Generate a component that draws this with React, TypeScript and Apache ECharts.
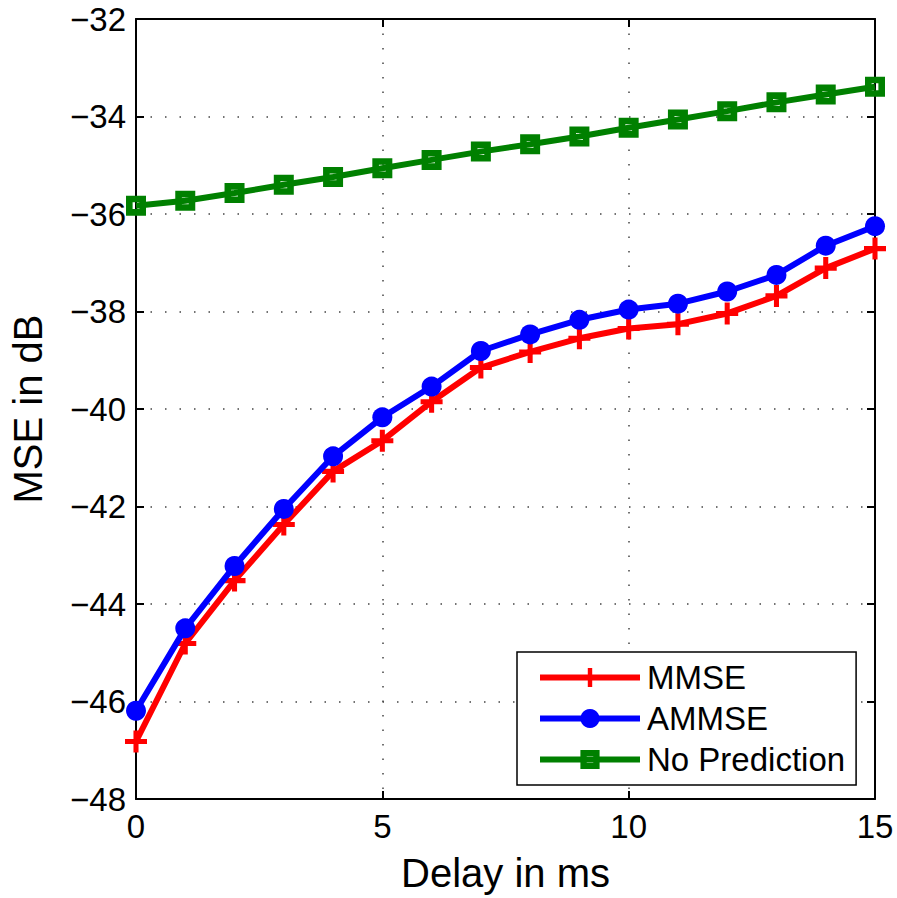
import React, { useEffect, useRef } from "react";
import * as echarts from "echarts";

const delays = [0, 1, 2, 3, 4, 5, 6, 7, 8, 9, 10, 11, 12, 13, 14, 15];
const mmse = [-46.82, -44.81, -43.52, -42.37, -41.28, -40.65, -39.85, -39.15, -38.83, -38.55, -38.35, -38.26, -38.04, -37.68, -37.11, -36.71];
const ammse = [-46.19, -44.5, -43.22, -42.05, -40.97, -40.17, -39.54, -38.81, -38.47, -38.17, -37.96, -37.84, -37.59, -37.25, -36.65, -36.25];
const noPrediction = [-35.83, -35.73, -35.57, -35.4, -35.24, -35.06, -34.89, -34.72, -34.57, -34.41, -34.23, -34.06, -33.89, -33.71, -33.55, -33.39];
const seriesNames = ["MMSE", "AMMSE", "No Prediction"];

const FONT = "'Liberation Sans', Arial, Helvetica, sans-serif";
const PLUS = "path://M3.85,0H6.15V3.85H10V6.15H6.15V10H3.85V6.15H0V3.85H3.85Z";
const HOLLOW_SQUARE = "path://M0,0H10V10H0Z M3.3,3.3V6.7H6.7V3.3Z";

export default function App() {
  const ref = useRef<HTMLDivElement>(null);
  useEffect(() => {
    if (!ref.current) return;
    const chart = echarts.init(ref.current, undefined, { renderer: "svg" });
    const pair = (arr: number[]) => delays.map((d, i) => [d, arr[i]]);
    const gridDots = { show: true, lineStyle: { color: "#444", width: 1.5, type: [1.5, 13] as any } };
    const minusFmt = (v: number) => (v < 0 ? "\u2212" + Math.abs(v) : String(v));
    chart.setOption({
      animation: false,
      backgroundColor: "#fff",
      textStyle: { fontFamily: FONT },
      grid: { left: 133, right: 22, top: 19, bottom: 96, containLabel: false },
      legend: {
        orient: "vertical",
        left: 517,
        top: 652,
        data: seriesNames,
        itemWidth: 100,
        itemHeight: 24,
        itemGap: 8,
        padding: [9, 11, 9, 20],
        borderColor: "#000",
        borderWidth: 1.5,
        backgroundColor: "#fff",
        lineStyle: { width: 6 },
        textStyle: { fontSize: 33, color: "#000", fontFamily: FONT, padding: [0, 0, 0, 2] },
      },
      xAxis: [
        {
          type: "value",
          min: 0,
          max: 15,
          interval: 5,
          name: "Delay in ms",
          nameLocation: "middle",
          nameGap: 54,
          nameTextStyle: { fontSize: 40, color: "#000", fontFamily: FONT },
          axisLine: { show: true, onZero: false, lineStyle: { color: "#000", width: 2 } },
          axisTick: { show: true, inside: true, length: 8, lineStyle: { color: "#000", width: 2 } },
          axisLabel: { fontSize: 33, color: "#000", margin: 11, fontFamily: FONT },
          splitLine: gridDots,
        },
        {
          type: "value",
          min: 0,
          max: 15,
          interval: 5,
          position: "top",
          axisLine: { show: true, onZero: false, lineStyle: { color: "#000", width: 2 } },
          axisTick: { show: true, inside: true, length: 8, lineStyle: { color: "#000", width: 2 } },
          axisLabel: { show: false },
          splitLine: { show: false },
        },
      ],
      yAxis: [
        {
          type: "value",
          min: -48,
          max: -32,
          interval: 2,
          name: "MSE in dB",
          nameLocation: "middle",
          nameGap: 88,
          nameTextStyle: { fontSize: 40, color: "#000", fontFamily: FONT },
          axisLine: { show: true, onZero: false, lineStyle: { color: "#000", width: 2 } },
          axisTick: { show: true, inside: true, length: 8, lineStyle: { color: "#000", width: 2 } },
          axisLabel: { fontSize: 33, color: "#000", margin: 10, fontFamily: FONT, formatter: minusFmt },
          splitLine: gridDots,
        },
        {
          type: "value",
          min: -48,
          max: -32,
          interval: 2,
          position: "right",
          axisLine: { show: true, onZero: false, lineStyle: { color: "#000", width: 2 } },
          axisTick: { show: true, inside: true, length: 8, lineStyle: { color: "#000", width: 2 } },
          axisLabel: { show: false },
          splitLine: { show: false },
        },
      ],
      series: [
        {
          name: seriesNames[0],
          type: "line",
          data: pair(mmse),
          symbol: PLUS,
          symbolSize: 22,
          showAllSymbol: true,
          color: "#ff0000",
          lineStyle: { color: "#ff0000", width: 6 },
          itemStyle: { color: "#ff0000" },
          z: 3,
        },
        {
          name: seriesNames[1],
          type: "line",
          data: pair(ammse),
          symbol: "circle",
          symbolSize: 20,
          showAllSymbol: true,
          color: "#0000ff",
          lineStyle: { color: "#0000ff", width: 6 },
          itemStyle: { color: "#0000ff" },
          z: 4,
        },
        {
          name: seriesNames[2],
          type: "line",
          data: pair(noPrediction),
          symbol: HOLLOW_SQUARE,
          symbolSize: 20,
          showAllSymbol: true,
          color: "#008000",
          lineStyle: { color: "#008000", width: 6 },
          itemStyle: { color: "#008000" },
          z: 5,
        },
      ],
    });
    return () => chart.dispose();
  }, []);
  return <div ref={ref} style={{ position: "fixed", left: 0, top: 0, width: 897, height: 898 }} />;
}
